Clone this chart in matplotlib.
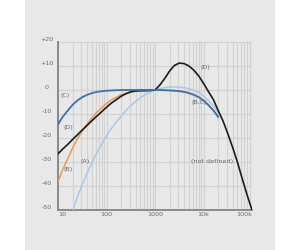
import numpy as np
import matplotlib
matplotlib.use("Agg")
import matplotlib.pyplot as plt
from matplotlib.patches import Rectangle

# ---- data ----
freq = [10, 12.5, 16, 20, 25, 31.5, 40, 50, 63, 80, 100, 125, 160, 200, 250, 315,
        400, 500, 630, 800, 1000, 1250, 1600, 2000, 2500, 3150, 4000, 5000, 6300,
        8000, 10000, 12500, 16000, 20000]
curve_a = [-70.4, -63.4, -56.7, -50.5, -44.7, -39.4, -34.6, -30.2, -26.2, -22.5, -19.1,
           -16.1, -13.4, -10.9, -8.6, -6.6, -4.8, -3.2, -1.9, -0.8, 0.0, 0.6, 1.0, 1.2,
           1.3, 1.2, 1.0, 0.5, -0.1, -1.1, -2.5, -4.3, -6.6, -9.3]
curve_b = [-38.2, -33.2, -28.5, -24.2, -20.4, -17.1, -14.2, -11.6, -9.3, -7.4, -5.6,
           -4.2, -3.0, -2.0, -1.3, -0.8, -0.5, -0.3, -0.1, 0.0, 0.0, 0.0, 0.0, -0.1,
           -0.2, -0.4, -0.7, -1.2, -1.9, -2.9, -4.3, -6.1, -8.4, -11.1]
curve_c = [-14.3, -11.2, -8.5, -6.2, -4.4, -3.0, -2.0, -1.3, -0.8, -0.5, -0.3, -0.2,
           -0.1, 0.0, 0.0, 0.0, 0.0, 0.0, 0.0, 0.0, 0.0, 0.0, -0.1, -0.2, -0.3, -0.5,
           -0.8, -1.3, -2.0, -3.0, -4.4, -6.2, -8.5, -11.2]
freq_d = [10, 12.5, 16, 20, 25, 31.5, 40, 50, 63, 80, 100, 125, 160, 200, 250, 315,
          400, 500, 630, 800, 1000, 1250, 1600, 2000, 2500, 3150, 4000, 5000, 6300,
          8000, 10000, 12500, 16000, 20000, 25000, 31500, 40000, 50000, 63000,
          80000, 100000]
curve_d = [-26.6, -24.6, -22.6, -20.6, -18.7, -16.7, -14.7, -12.8, -10.9, -9.0, -7.2,
           -5.5, -4.0, -2.6, -1.6, -0.8, -0.4, -0.3, -0.3, -0.2, 0.0, 2.0, 4.9, 7.9,
           10.2, 11.2, 11.0, 10.0, 8.3, 5.8, 2.8, -0.5, -4.0, -8.5, -12.7, -18.0,
           -24.0, -30.0, -37.0, -44.0, -50.0]

x_ticks = [10, 100, 1000, 10000, 100000]
x_labels = ["10", "100", "1000", "10k", "100k"]
y_ticks = [-50, -40, -30, -20, -10, 0, 10, 20]
y_labels = ["-50", "-40", "-30", "-20", "-10", "0", "+10", "+20"]

annotations = [("(C)", 13.9, -2.5), ("(D)", 16.1, -15.8), ("(B)", 16.1, -33.3),
               ("(A)", 36.0, -29.6), ("(D)", 10700, 9.2), ("(B,C)", 8100, -5.4),
               ("(not defined)", 15000, -29.6)]

# ---- style ----
BG = "#e8e8e8"
GRID = "#d2d2d2"
TXT = "#6a6a6a"
COL_A = "#a9c9e8"
COL_B = "#e99a55"
COL_C = "#3f70a8"
COL_D = "#1c1c1c"

fig = plt.figure(figsize=(3.0, 2.5), dpi=100)
fig.patch.set_facecolor("white")
bg = fig.add_axes([25 / 300, 0, 250 / 300, 1], zorder=-10)
bg.set_facecolor(BG)
bg.set_xticks([])
bg.set_yticks([])
for s in bg.spines.values():
    s.set_visible(False)

ax = fig.add_axes([58 / 300, 1 - 210 / 250, 194 / 300, 168 / 250], zorder=1)
ax.set_facecolor(BG)
ax.set_xscale("log")
ax.set_xlim(10, 100000)
ax.set_ylim(-50, 20)

ax.set_xticks(x_ticks)
ax.set_xticklabels(x_labels)
ax.set_yticks(y_ticks)
ax.set_yticklabels(y_labels)
ax.xaxis.set_minor_locator(matplotlib.ticker.LogLocator(base=10, subs=np.arange(2, 10)))
ax.xaxis.set_minor_formatter(matplotlib.ticker.NullFormatter())
ax.grid(True, which="both", axis="x", color=GRID, lw=0.8)
ax.grid(True, which="major", axis="y", color=GRID, lw=0.8)
ax.set_axisbelow(True)
ax.tick_params(which="both", length=0, labelsize=4.6, labelcolor=TXT)
ax.tick_params(axis="x", pad=1.5)
ax.tick_params(axis="y", pad=8)
for lab in ax.get_yticklabels():
    lab.set_horizontalalignment("center")
    lab.set_verticalalignment("bottom")
xl = ax.get_xticklabels()
xl[0].set_horizontalalignment("left")
xl[-1].set_horizontalalignment("right")

for s in ["top", "right"]:
    ax.spines[s].set_visible(False)
for s in ["left", "bottom"]:
    ax.spines[s].set_color("#8a8a8a")
    ax.spines[s].set_linewidth(1.4)

ax.plot(freq, curve_a, color=COL_A, lw=1.1, zorder=3)
ax.plot(freq, curve_b, color=COL_B, lw=1.1, zorder=3)
ax.plot(freq_d, curve_d, color=COL_D, lw=1.2, zorder=4)
ax.plot(freq, curve_c, color=COL_C, lw=1.3, zorder=5)

for txt, fx, fy in annotations:
    ax.text(fx, fy, txt, fontsize=4.6, color=TXT, ha="center", va="center", zorder=6)

fig.savefig("out.png", dpi=100, facecolor=fig.get_facecolor())
